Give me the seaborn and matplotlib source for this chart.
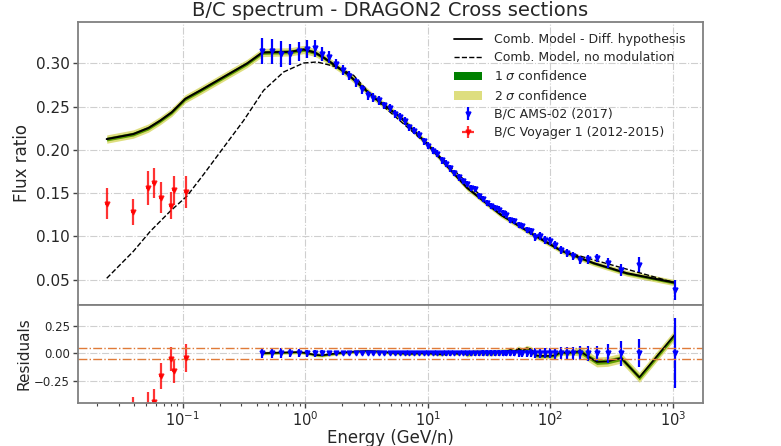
import numpy as np
import matplotlib
matplotlib.use("Agg")
import matplotlib.pyplot as plt
import seaborn as sns
import pandas as pd
from matplotlib.lines import Line2D
from matplotlib.patches import Patch

# ---------------- data ----------------
ams_E = [0.445, 0.535, 0.638, 0.754, 0.885, 1.030, 1.192, 1.371, 1.569, 1.788,
         2.029, 2.290, 2.576, 2.887, 3.225, 3.591, 3.988, 4.415, 4.883, 5.377,
         5.897, 6.466, 7.086, 7.756, 8.476, 9.25, 10.07, 10.97, 11.94, 12.96,
         14.05, 15.23, 16.48, 17.82, 19.27, 20.82, 22.47, 24.24, 26.14, 28.16,
         30.33, 32.68, 35.20, 37.90, 40.79, 43.91, 47.29, 51.03, 55.04, 59.28,
         64.02, 69.51, 75.75, 82.74, 90.72, 99.70, 109.9, 121.9, 136.3, 154.0,
         175.9, 203.5, 239.6, 293.4, 380.1, 533.9, 1034.8]
ams_val = [0.3140, 0.3136, 0.3108, 0.3105, 0.3136, 0.3163, 0.3174, 0.3105, 0.3070, 0.2988,
           0.2922, 0.2857, 0.2779, 0.2700, 0.2628, 0.2601, 0.2570, 0.2512, 0.2485, 0.2415,
           0.2376, 0.2337, 0.2259, 0.2221, 0.2174, 0.2097, 0.2047, 0.1988, 0.1957, 0.1880,
           0.1841, 0.1787, 0.1736, 0.1680, 0.1640, 0.1609, 0.1560, 0.1543, 0.1465, 0.1426,
           0.1388, 0.1349, 0.1330, 0.1310, 0.1271, 0.1252, 0.1194, 0.1174, 0.1136, 0.1116,
           0.1078, 0.1058, 0.0990, 0.1000, 0.0961, 0.0942, 0.0900, 0.0845, 0.0810, 0.0770,
           0.0729, 0.0736, 0.0748, 0.0690, 0.0612, 0.0671, 0.0380]
ams_err = [0.015, 0.014, 0.015, 0.012, 0.011, 0.010, 0.010, 0.008, 0.007, 0.006,
           0.006, 0.005, 0.005, 0.005, 0.005, 0.005, 0.005, 0.0045, 0.0045, 0.0045,
           0.0045, 0.0045, 0.004, 0.004, 0.004, 0.004, 0.004, 0.004, 0.004, 0.004,
           0.004, 0.004, 0.0035, 0.0035, 0.0035, 0.0035, 0.0035, 0.0035, 0.0035, 0.0035,
           0.0035, 0.0035, 0.0035, 0.0035, 0.0035, 0.0035, 0.0035, 0.0035, 0.0035, 0.0035,
           0.0035, 0.004, 0.0045, 0.0045, 0.0045, 0.0045, 0.0045, 0.0045, 0.0045, 0.0045,
           0.0045, 0.005, 0.005, 0.006, 0.007, 0.0085, 0.012]

voy_E = [0.0239, 0.0394, 0.052, 0.058, 0.066, 0.0798, 0.0844, 0.1064]
voy_val = [0.1376, 0.1276, 0.1560, 0.1616, 0.1445, 0.1352, 0.1531, 0.1512]
voy_err = [0.018, 0.015, 0.020, 0.0175, 0.018, 0.0155, 0.0167, 0.0188]
voy_xerr = [0.0009, 0.0015, 0.002, 0.0022, 0.0025, 0.003, 0.0032, 0.004]
voy_res = [-0.70, -0.52, -0.47, -0.44, -0.21, -0.055, -0.16, -0.046]
voy_res_err = [0.12, 0.12, 0.12, 0.11, 0.12, 0.11, 0.11, 0.125]

model_E = [0.0239, 0.0394, 0.0524, 0.0653, 0.0812, 0.1046, 0.139, 0.215, 0.334, 0.445,
           0.535, 0.754, 0.969, 1.192, 1.41, 2.19, 3.62, 5.98, 9.9, 15.3,
           20.9, 39.3, 73.7, 121.9, 226, 423, 1035]
model_val = [0.2124, 0.2182, 0.2252, 0.2337, 0.2434, 0.2589, 0.2686, 0.2841, 0.2997, 0.3124,
             0.3128, 0.3132, 0.3159, 0.3125, 0.3066, 0.2880, 0.2608, 0.2376, 0.2066, 0.1770,
             0.1562, 0.1252, 0.1015, 0.0837, 0.0690, 0.0573, 0.0465]
model_sig1 = [0.0022, 0.0022, 0.0022, 0.0022, 0.0022, 0.0022, 0.0022, 0.0022, 0.0022, 0.0022,
              0.0022, 0.0022, 0.0022, 0.0022, 0.002, 0.002, 0.002, 0.0018, 0.0018, 0.0016,
              0.0016, 0.0015, 0.0015, 0.0015, 0.0015, 0.0016, 0.0018]
model_sig2 = [0.0048, 0.0048, 0.0048, 0.0048, 0.0048, 0.0048, 0.0048, 0.0048, 0.0048, 0.0048,
              0.0048, 0.0048, 0.0048, 0.0045, 0.0042, 0.004, 0.004, 0.0038, 0.0036, 0.0034,
              0.0033, 0.0032, 0.0031, 0.0031, 0.0032, 0.0034, 0.0036]

nomod_E = [0.0239, 0.0394, 0.0542, 0.0788, 0.108, 0.148, 0.215, 0.313, 0.456, 0.665,
           0.969, 1.25, 1.81, 2.48, 3.62, 9.9, 39.3, 121.9, 1035]
nomod_val = [0.0515, 0.0826, 0.1058, 0.1290, 0.1465, 0.1717, 0.2027, 0.2337, 0.2686, 0.2899,
             0.3003, 0.3015, 0.2957, 0.2860, 0.2600, 0.2060, 0.1250, 0.0835, 0.0465]

res_E = [0.445, 0.638, 0.885, 1.03, 1.192, 1.371, 1.569, 2.029, 2.576, 3.225,
         3.988, 4.883, 5.897, 7.086, 8.476, 10.07, 12.96, 15.23, 17.82, 19.27,
         20.82, 24.24, 28.16, 32.68, 37.90, 43.91, 47.29, 51.03, 55.04, 59.28,
         64.02, 69.51, 75.75, 82.74, 90.72, 99.70, 109.9, 121.9, 136.3, 154.0,
         175.9, 239.6, 293.4, 380.1, 533.9, 1034.8]
res_model = [0.0, 0.005, 0.01, 0.0, -0.015, -0.02, -0.01, 0.005, 0.015, 0.02,
             0.015, 0.005, 0.0, -0.005, 0.0, 0.0, -0.01, 0.005, -0.005, 0.01,
             -0.01, 0.01, 0.005, 0.0, 0.01, 0.015, 0.03, 0.015, 0.04, 0.02,
             0.045, 0.035, -0.02, -0.025, -0.025, -0.025, -0.02, 0.01, 0.0, 0.01,
             0.015, -0.08, -0.075, -0.045, -0.22, 0.165]
res_sig1 = [0.008] * 20 + [0.012] * 20 + [0.022] * 6
res_sig2 = [0.016] * 20 + [0.026] * 20 + [0.045] * 6

# ---------------- figure ----------------
sns.set_theme(style="white")
plt.rcParams['font.family'] = ['DejaVu Sans']

fig = plt.figure(figsize=(7.81, 4.46), dpi=100)
gs = fig.add_gridspec(2, 1, height_ratios=[283, 98], hspace=0,
                      left=0.0995, right=0.8998, top=0.9513, bottom=0.0971)
ax = fig.add_subplot(gs[0])
axr = fig.add_subplot(gs[1], sharex=ax)

GREEN = 'green'
KHAKI = (0.75, 0.75, 0.0, 0.5)

for a in (ax, axr):
    a.set_xscale('log')
    a.grid(True, which='major', linestyle='-.', color='#cfcfcf', linewidth=0.8)
    for s in a.spines.values():
        s.set_color('#808080')
        s.set_linewidth(1.3)
    a.tick_params(axis='both', which='major', direction='out', length=3.5, width=1,
                  labelsize=10.5, pad=2, bottom=True, left=True, color='#444444')
    a.tick_params(axis='x', which='minor', direction='out', length=2, width=0.8,
                  bottom=True, color='#444444')
ax.tick_params(axis='y', labelsize=11)
axr.tick_params(axis='y', labelsize=8.5)

mE = np.array(model_E); mv = np.array(model_val)
s1 = np.array(model_sig1); s2 = np.array(model_sig2)
ax.fill_between(mE, mv - s1, mv + s1, color=GREEN, lw=0)
ax.fill_between(mE, mv - s2, mv + s2, color=KHAKI, lw=0)
df_model = pd.DataFrame({'E': model_E, 'v': model_val})
sns.lineplot(data=df_model, x='E', y='v', ax=ax, color='black', lw=1.5,
             sort=False, estimator=None)
df_nomod = pd.DataFrame({'E': nomod_E, 'v': nomod_val})
sns.lineplot(data=df_nomod, x='E', y='v', ax=ax, color='black', lw=1.0,
             linestyle='--', sort=False, estimator=None)

h_ams = ax.errorbar(ams_E, ams_val, yerr=ams_err, fmt='v', color='blue',
                    ms=3.5, elinewidth=1.6, capsize=0)
h_voy = ax.errorbar(voy_E, voy_val, yerr=voy_err, xerr=voy_xerr, fmt='v',
                    color='red', alpha=0.8, ms=3.5, elinewidth=1.6, capsize=0)

ax.set_xlim(0.01385, 1758)
ax.set_ylim(0.021, 0.348)
ax.set_yticks([0.05, 0.10, 0.15, 0.20, 0.25, 0.30])
ax.set_ylabel('Flux ratio', fontsize=12)
ax.yaxis.set_label_coords(-0.074, 0.5)
ax.set_xlabel('')
ax.tick_params(axis='x', which='both', labelbottom=False, bottom=False)
ax.set_title('B/C spectrum - DRAGON2 Cross sections', fontsize=14, pad=4)

handles = [Line2D([], [], color='black', lw=1.3),
           Line2D([], [], color='black', lw=1.0, linestyle='--'),
           Patch(facecolor=GREEN, edgecolor='none'),
           Patch(facecolor=KHAKI, edgecolor='none'),
           h_ams, h_voy]
labels = ['Comb. Model - Diff. hypothesis', 'Comb. Model, no modulation',
          r'1 $\sigma$ confidence', r'2 $\sigma$ confidence',
          'B/C AMS-02 (2017)', 'B/C Voyager 1 (2012-2015)']
ax.legend(handles, labels, loc='upper right', frameon=False, fontsize=9,
          handlelength=2.3, handletextpad=0.9, labelspacing=0.42,
          borderaxespad=0.5, bbox_to_anchor=(0.99, 1.0))

# ---------------- residuals ----------------
rE = np.array(res_E); rm = np.array(res_model)
r1 = np.array(res_sig1); r2 = np.array(res_sig2)
axr.fill_between(rE, rm - r1, rm + r1, color=GREEN, lw=0)
axr.fill_between(rE, rm - r2, rm + r2, color=KHAKI, lw=0)
df_res = pd.DataFrame({'E': res_E, 'v': res_model})
sns.lineplot(data=df_res, x='E', y='v', ax=axr, color='black', lw=1.2,
             sort=False, estimator=None)
ams_rel = np.array(ams_err) / np.array(ams_val)
axr.errorbar(ams_E, np.zeros(len(ams_E)), yerr=ams_rel, fmt='v', color='blue',
             ms=3.5, elinewidth=1.6, capsize=0)
axr.errorbar(voy_E, voy_res, yerr=voy_res_err, xerr=voy_xerr, fmt='v', color='red',
             alpha=0.8, ms=3.5, elinewidth=1.6, capsize=0)
axr.axhline(0.05, color='#e07b39', linestyle='-.', lw=1.0)
axr.axhline(-0.05, color='#e07b39', linestyle='-.', lw=1.0)
axr.set_ylim(-0.45, 0.44)
axr.set_yticks([-0.25, 0.0, 0.25])
axr.set_ylabel('Residuals', fontsize=11)
axr.yaxis.set_label_coords(-0.074, 0.5)
axr.set_xlabel('Energy (GeV/n)', fontsize=12, labelpad=0)
axr.set_xlim(0.01385, 1758)

fig.savefig('out.png', dpi=100)
